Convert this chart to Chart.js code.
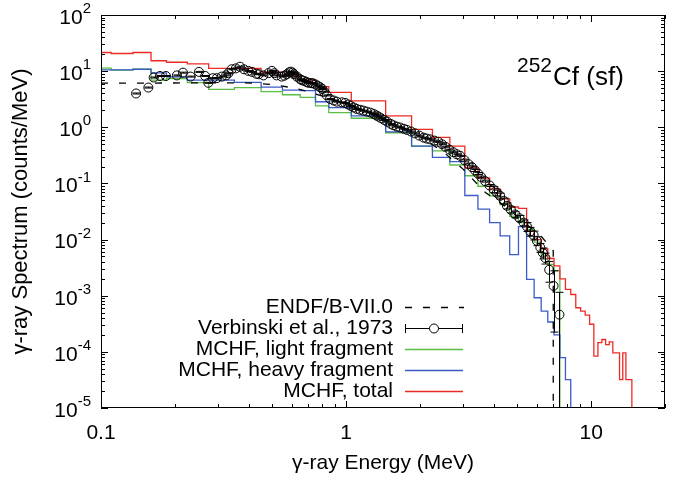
<!DOCTYPE html>
<html>
<head>
<meta charset="utf-8">
<script src="https://cdn.jsdelivr.net/npm/chart.js@4.4.1/dist/chart.umd.min.js"></script>
<style>
  html, body { margin: 0; padding: 0; background: #fff; }
</style>
</head>
<body>
<canvas id="chart" width="683" height="478"></canvas>
<script>
// MCHF histogram bin edges (MeV), shared by the three MCHF curves
const binEdges = [0.1, 0.11, 0.135, 0.16, 0.185, 0.225, 0.275, 0.35, 0.45, 0.55, 0.65, 0.75, 0.85, 1.05,
  1.45, 1.85, 2.25, 2.65, 3.05, 3.45, 3.85, 4.25, 4.65, 5.05, 5.45, 5.85, 6.25, 6.65, 7.05,
  7.45, 7.85, 8.25, 8.65, 9.05, 9.45, 9.85, 10.25, 10.65, 11.05, 11.45, 11.85, 12.25, 12.65,
  13.05, 13.45, 13.85, 14.25, 14.65];

// MCHF, total (one value per bin)
const totalVals = [21.5, 20.6, 21.5, 15.3, 14.4, 13.5, 11.2, 11.2, 9.6, 8.5, 7.0, 5.3, 4.2,
  2.95, 1.6, 0.92, 0.66, 0.46, 0.19, 0.125, 0.08, 0.053, 0.038, 0.036, 0.014, 0.010, 0.0068, 0.0046,
  0.0034, 0.002, 0.0013, 0.00105, 0.00061, 0.00053, 0.00045, 0.00031, 0.000084, 0.000146, 0.000166,
  0.000135, 0.00015, 0.000096, 0.000096, 0.000032, 0.000096, 0.000032, 0.000032];

// MCHF, light fragment (stops at 7.45 MeV)
const lightVals = [11.3, 10.4, 10.8, 6.9, 7.4, 6.25, 4.75, 5.1, 4.3, 3.8, 3.4, 2.4, 1.83,
  1.45, 0.80, 0.46, 0.38, 0.213, 0.137, 0.089, 0.06, 0.042, 0.026, 0.02, 0.0152, 0.009, 0.0051, 0.0036,
  0.0028];

// MCHF, heavy fragment (stops at 8.25 MeV)
const heavyVals = [10.5, 10.5, 10.8, 9.3, 7.9, 6.9, 6.9, 6.3, 5.2, 4.6, 4.5, 2.85, 2.24,
  1.6, 0.83, 0.46, 0.29, 0.245, 0.061, 0.035, 0.02, 0.0116, 0.0054, 0.017, 0.00195, 0.00092, 0.00053, 0.00034,
  0.0002, 0.000079, 0.000032];

// ENDF/B-VII.0 evaluation
const endfE = [0.1, 0.38, 0.43, 0.49, 0.6, 0.71, 0.85, 1.0, 1.3, 1.6, 2.0, 2.5, 3.0, 3.7, 4.5, 5.5, 6.3, 7.0, 7.0];
const endfY = [6.1, 6.2, 6.05, 5.8, 5.1, 4.25, 3.3, 2.6, 1.7, 1.15, 0.68, 0.36, 0.18, 0.069, 0.038, 0.018, 0.011, 0.0063, 1e-7];

// Verbinski et al., 1973 measurement
const verbE = [0.139, 0.156, 0.164, 0.174, 0.184, 0.204, 0.216, 0.232, 0.251, 0.266,
  0.274, 0.286, 0.297, 0.311, 0.324, 0.331, 0.341, 0.355, 0.369, 0.383,
  0.399, 0.413, 0.43, 0.44, 0.46, 0.482, 0.498, 0.51, 0.52, 0.546,
  0.56, 0.573, 0.585, 0.595, 0.605, 0.613, 0.63, 0.649, 0.66, 0.674,
  0.69, 0.702, 0.72, 0.731, 0.75, 0.765, 0.783, 0.80, 0.813, 0.834,
  0.86, 0.89, 0.916, 0.96, 0.991, 1.02, 1.045, 1.075, 1.105, 1.14,
  1.177, 1.215, 1.26, 1.30, 1.33, 1.355, 1.39, 1.43, 1.47, 1.52,
  1.56, 1.61, 1.66, 1.72, 1.77, 1.84, 1.91, 1.99, 2.07, 2.13,
  2.2, 2.29, 2.38, 2.46, 2.54, 2.64, 2.74, 2.83, 2.92, 3.04,
  3.16, 3.26, 3.36, 3.45, 3.56, 3.69, 3.85, 4.0, 4.12, 4.25,
  4.4, 4.53, 4.7, 4.9, 5.1, 5.3, 5.47, 5.64, 5.82, 6.0,
  6.2, 6.35, 6.5, 6.74, 7.02, 7.42];
const verbY = [4.0, 5.1, 7.7, 8.2, 8.2, 8.4, 9.4, 8.0, 9.7, 8.2,
  6.2, 7.5, 7.5, 8.0, 8.4, 9.2, 10.8, 11.2, 12.0, 10.8,
  10.1, 9.7, 9.0, 8.8, 8.4, 9.2, 10.1, 9.2, 8.4, 8.0,
  8.3, 8.8, 9.5, 9.8, 9.4, 8.8, 8.0, 7.2, 6.9, 6.7,
  6.4, 6.2, 6.1, 6.1, 5.8, 5.5, 5.2, 4.8, 4.3, 3.7,
  3.2, 3.0, 2.86, 2.78, 2.72, 2.55, 2.4, 2.25, 2.12, 2.05,
  1.98, 1.9, 1.82, 1.72, 1.62, 1.55, 1.45, 1.35, 1.26, 1.15,
  1.085, 1.03, 0.99, 0.94, 0.90, 0.84, 0.78, 0.71, 0.655, 0.63,
  0.61, 0.58, 0.55, 0.50, 0.45, 0.40, 0.36, 0.33, 0.31, 0.26,
  0.22, 0.195, 0.17, 0.15, 0.13, 0.11, 0.092, 0.078, 0.068, 0.06,
  0.049, 0.04, 0.034, 0.028, 0.024, 0.020, 0.017, 0.014, 0.012, 0.0095,
  0.0072, 0.0058, 0.0047, 0.0029, 0.0015, 0.00046];
// relative error of each point
const verbErr = [0.02, 0.02, 0.02, 0.02, 0.02, 0.02, 0.02, 0.02, 0.02, 0.02,
  0.02, 0.02, 0.02, 0.02, 0.02, 0.02, 0.02, 0.02, 0.02, 0.02,
  0.02, 0.02, 0.02, 0.02, 0.02, 0.02, 0.02, 0.02, 0.02, 0.02,
  0.02, 0.02, 0.02, 0.02, 0.02, 0.02, 0.02, 0.02, 0.02, 0.02,
  0.02, 0.02, 0.02, 0.02, 0.02, 0.02, 0.02, 0.02, 0.02, 0.02,
  0.02, 0.02, 0.02, 0.02, 0.02, 0.02, 0.02, 0.02, 0.02, 0.02,
  0.02, 0.02, 0.02, 0.02, 0.02, 0.02, 0.02, 0.02, 0.02, 0.02,
  0.02, 0.02, 0.02, 0.02, 0.02, 0.02, 0.02, 0.02, 0.02, 0.02,
  0.02, 0.02, 0.02, 0.02, 0.02, 0.02, 0.02, 0.02, 0.02, 0.04,
  0.04, 0.04, 0.04, 0.04, 0.04, 0.04, 0.04, 0.12, 0.12, 0.12,
  0.12, 0.12, 0.12, 0.12, 0.12, 0.12, 0.18, 0.18, 0.18, 0.18,
  0.18, 0.22, 0.22, 0.4, 0.85, 1.5];

// axis ticks
const xMajor = [0.1, 1, 10];
const xLabels = ['0.1', '1', '10'];
const yExp = [-5, -4, -3, -2, -1, 0, 1, 2];

const FONT = '"Liberation Sans", Arial, Helvetica, sans-serif';
const GREEN = '#5cbd45', BLUE = '#3a5bc8', RED = '#ee2a24';

// turn bin edges + values into stepped line points, dropping out of the plot at the end
function histPoints(edges, vals) {
  const pts = vals.map((v, i) => ({ x: edges[i], y: v }));
  const last = edges[vals.length];
  pts.push({ x: last, y: vals[vals.length - 1] });
  pts.push({ x: last, y: 1e-7 });
  return pts;
}

const legendRows = [
  { text: 'ENDF/B-VII.0', kind: 'dash' },
  { text: 'Verbinski et al., 1973', kind: 'err' },
  { text: 'MCHF, light fragment', color: GREEN },
  { text: 'MCHF, heavy fragment', color: BLUE },
  { text: 'MCHF, total', color: RED }
];

const framePlugin = {
  id: 'frame',
  afterDatasetsDraw(chart) {
    // error bars of the measurement
    const { ctx, chartArea: a } = chart;
    const xs = chart.scales.x, ys = chart.scales.y;
    ctx.save();
    ctx.beginPath();
    ctx.rect(a.left, a.top, a.right - a.left, a.bottom - a.top);
    ctx.clip();
    ctx.strokeStyle = '#000';
    ctx.lineWidth = 1;
    verbE.forEach((e, i) => {
      const v = verbY[i], d = v * verbErr[i];
      const px = Math.round(xs.getPixelForValue(e)) + 0.5;
      const hi = ys.getPixelForValue(v + d);
      const lo = v - d > 0 ? ys.getPixelForValue(v - d) : a.bottom + 5;
      ctx.beginPath();
      ctx.moveTo(px, hi); ctx.lineTo(px, lo);
      ctx.moveTo(px - 4, hi); ctx.lineTo(px + 4, hi);
      if (v - d > 0) { ctx.moveTo(px - 4, lo); ctx.lineTo(px + 4, lo); }
      ctx.stroke();
    });
    ctx.restore();
  },
  afterDraw(chart) {
    const { ctx, chartArea: a } = chart;
    const xs = chart.scales.x, ys = chart.scales.y;
    ctx.save();
    ctx.strokeStyle = '#000';
    ctx.lineWidth = 1;
    ctx.strokeRect(a.left + 0.5, a.top + 0.5, a.right - a.left - 1, a.bottom - a.top - 1);

    // inward ticks on all four sides
    ctx.beginPath();
    [0.1, 1, 10].forEach(d => {
      for (let m = 1; m <= 9; m++) {
        const v = d * m;
        if (v > 20.0001) break;
        const px = Math.round(xs.getPixelForValue(v)) + 0.5;
        const len = m === 1 ? 7 : 4;
        ctx.moveTo(px, a.bottom); ctx.lineTo(px, a.bottom - len);
        ctx.moveTo(px, a.top); ctx.lineTo(px, a.top + len);
      }
    });
    yExp.forEach(p => {
      for (let m = 1; m <= 9; m++) {
        if (p === 2 && m > 1) break;
        const v = m * Math.pow(10, p);
        const py = Math.round(ys.getPixelForValue(v)) + 0.5;
        const len = m === 1 ? 7 : 4;
        ctx.moveTo(a.left, py); ctx.lineTo(a.left + len, py);
        ctx.moveTo(a.right, py); ctx.lineTo(a.right - len, py);
      }
    });
    ctx.stroke();

    // tick labels
    ctx.fillStyle = '#000';
    ctx.textBaseline = 'middle';
    ctx.textAlign = 'center';
    ctx.font = '21px ' + FONT;
    xMajor.forEach((v, i) => ctx.fillText(xLabels[i], xs.getPixelForValue(v), 433));
    yExp.forEach(p => {
      const py = ys.getPixelForValue(Math.pow(10, p));
      const sup = String(p);
      ctx.font = '15px ' + FONT;
      const sw = ctx.measureText(sup).width;
      ctx.font = '21px ' + FONT;
      const bw = ctx.measureText('10').width;
      const right = 91;
      ctx.textAlign = 'left';
      ctx.fillText('10', right - sw - bw, py + 3);
      ctx.font = '15px ' + FONT;
      ctx.fillText(sup, right - sw, py - 6);
    });

    // legend
    ctx.font = '21px ' + FONT;
    ctx.textAlign = 'right';
    legendRows.forEach((r, i) => {
      const ry = 307 + i * 21;
      ctx.fillStyle = '#000';
      ctx.fillText(r.text, 393, ry);
      ctx.beginPath();
      if (r.kind === 'dash') {
        ctx.strokeStyle = '#000';
        ctx.lineWidth = 1.3;
        ctx.setLineDash([7, 11]);
        ctx.moveTo(405, ry + 0.5); ctx.lineTo(464, ry + 0.5);
        ctx.stroke();
        ctx.setLineDash([]);
      } else if (r.kind === 'err') {
        ctx.strokeStyle = '#000';
        ctx.lineWidth = 1;
        ctx.moveTo(405, ry + 0.5); ctx.lineTo(429.5, ry + 0.5);
        ctx.moveTo(438.5, ry + 0.5); ctx.lineTo(463, ry + 0.5);
        ctx.moveTo(405.5, ry - 4); ctx.lineTo(405.5, ry + 5);
        ctx.moveTo(462.5, ry - 4); ctx.lineTo(462.5, ry + 5);
        ctx.stroke();
        ctx.beginPath();
        ctx.arc(434, ry + 0.5, 4.5, 0, Math.PI * 2);
        ctx.stroke();
      } else {
        ctx.strokeStyle = r.color;
        ctx.lineWidth = 1.3;
        ctx.moveTo(405, ry + 0.5); ctx.lineTo(463, ry + 0.5);
        ctx.stroke();
      }
    });

    // nucleus label
    ctx.fillStyle = '#000';
    ctx.textAlign = 'left';
    ctx.textBaseline = 'alphabetic';
    ctx.font = '21px ' + FONT;
    ctx.fillText('252', 517, 72);
    const sw = ctx.measureText('252').width;
    ctx.font = '26px ' + FONT;
    ctx.fillText('Cf (sf)', 517 + sw + 1, 85);
    ctx.restore();
  }
};

Chart.defaults.font.family = FONT;
Chart.defaults.color = '#000';

new Chart(document.getElementById('chart'), {
  type: 'line',
  data: {
    datasets: [
      {
        label: 'ENDF/B-VII.0',
        data: endfE.map((e, i) => ({ x: e, y: endfY[i] })),
        borderColor: '#000', borderWidth: 1.3, borderDash: [7, 11],
        pointRadius: 0, fill: false, tension: 0, order: 1
      },
      {
        label: 'Verbinski et al., 1973',
        data: verbE.map((e, i) => ({ x: e, y: verbY[i] })),
        showLine: false, pointStyle: 'circle', pointRadius: 4.5,
        pointBorderColor: '#000', pointBackgroundColor: 'rgba(0,0,0,0)', pointBorderWidth: 1,
        order: 0
      },
      {
        label: 'MCHF, light fragment',
        data: histPoints(binEdges, lightVals),
        borderColor: GREEN, borderWidth: 1.3, stepped: true, pointRadius: 0, order: 4
      },
      {
        label: 'MCHF, heavy fragment',
        data: histPoints(binEdges, heavyVals),
        borderColor: BLUE, borderWidth: 1.3, stepped: true, pointRadius: 0, order: 3
      },
      {
        label: 'MCHF, total',
        data: histPoints(binEdges, totalVals),
        borderColor: RED, borderWidth: 1.3, stepped: true, pointRadius: 0, order: 2
      }
    ]
  },
  options: {
    responsive: false,
    animation: false,
    devicePixelRatio: 1,
    layout: { padding: { left: 0, right: 18, top: 15, bottom: 0 } },
    plugins: { legend: { display: false }, tooltip: { enabled: false } },
    scales: {
      x: {
        type: 'logarithmic', min: 0.1, max: 20,
        grid: { display: false }, border: { display: false },
        ticks: { display: false },
        title: { display: true, text: 'γ-ray Energy (MeV)', font: { size: 21 }, padding: { top: 0, bottom: 2 } },
        afterFit: s => { s.height = 70; }
      },
      y: {
        type: 'logarithmic', min: 1e-5, max: 100,
        grid: { display: false }, border: { display: false },
        ticks: { display: false },
        title: { display: true, text: 'γ-ray Spectrum (counts/MeV)', font: { size: 22 }, padding: { top: 8, bottom: 0 } },
        afterFit: s => { s.width = 101; }
      }
    }
  },
  plugins: [framePlugin]
});
</script>
</body>
</html>
